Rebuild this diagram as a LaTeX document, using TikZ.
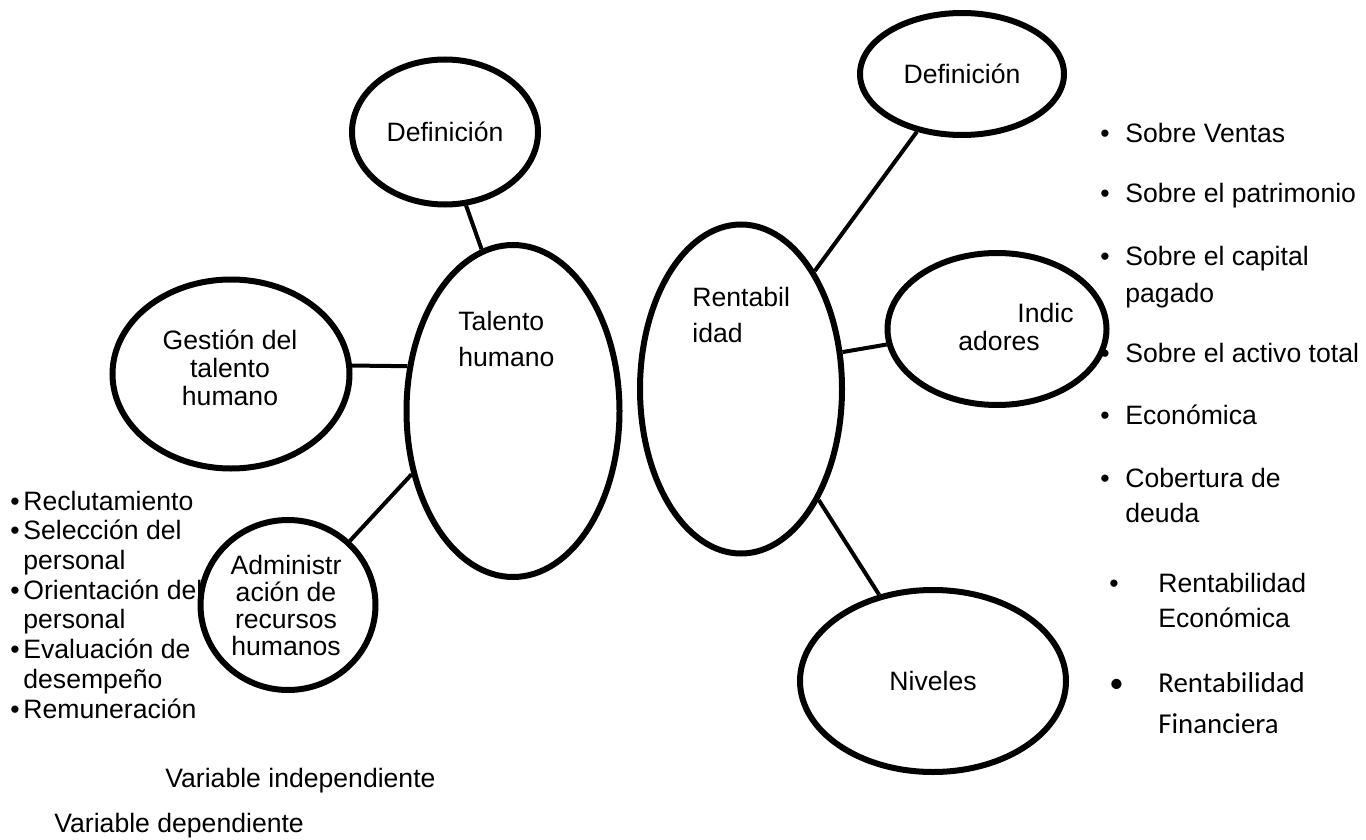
\documentclass[tikz,border=0pt]{standalone}
\usepackage{fontspec}
\setmainfont{Liberation Sans}
\newfontfamily\calibri{Carlito}
\usetikzlibrary{shapes.geometric}

\begin{document}
\begin{tikzpicture}[x=0.5pt,y=-0.5pt,
    burbuja/.style={draw, ellipse, line width=3pt, inner sep=0pt, font=\fontsize{13.3}{16}\selectfont},
    enlace/.style={line width=2pt},
    texto/.style={font=\fontsize{13.3}{#1}\selectfont, inner sep=0pt, align=left},
    texto/.default=16]
  \useasboundingbox (0,0) rectangle (1366,840);

  % Variable independiente
  \node[burbuja, minimum width=106.5pt, minimum height=166pt] (tal) at (513,411) {};
  \node[burbuja, minimum width=93pt, minimum height=72.5pt] (defa) at (445,132) {Definición};
  \node[burbuja, minimum width=118.5pt, minimum height=94.5pt] (ges) at (231,374) {};
  \node[burbuja, minimum width=87.5pt, minimum height=85pt] (adm) at (288,605) {};
  % (base = ultima linea)
  \node[texto=18, anchor=base west] (talt) at (458,366) {Talento\\humano};
  \node[texto=14, align=center, anchor=base] (gest) at (230,405) {Gestión del\\talento\\humano};
  \node[texto=13.35, align=center, anchor=base] (admt) at (286,655) {Administr\\ación de\\recursos\\humanos};
  \draw[enlace] (defa.286) -- (tal.101);
  \draw[enlace] (ges.4) -- (tal.157);
  \draw[enlace] (adm.46) -- (tal.212);

  % Variable dependiente
  \node[burbuja, minimum width=101pt, minimum height=164.5pt] (ren) at (741,389) {};
  \node[burbuja, minimum width=102pt, minimum height=61pt] (defb) at (962,74) {Definición};
  \node[burbuja, minimum width=109.5pt, minimum height=76pt] (ind) at (997,329) {};
  \node[burbuja, minimum width=133pt, minimum height=91pt] (niv) at (933,681) {Niveles};
  \node[texto=18, anchor=base west] (rent) at (692,342) {Rentabil\\idad};
  \node[texto=13.5, anchor=base west] (indt) at (958,350) {\hspace*{29.5pt}Indic\\adores};
  \draw[enlace] (defb.232) -- (ren.58);
  \draw[enlace] (ren.20) -- (ind.188);
  \draw[enlace] (ren.305) -- (niv.122);

  % Listas
  \node[texto=14.85, anchor=base west] (lista) at (10,718) {\makebox[6.5pt][l]{•}Reclutamiento\\
    \makebox[6.5pt][l]{•}Selección del\\\hspace*{6.5pt}personal\\
    \makebox[6.5pt][l]{•}Orientación del\\\hspace*{6.5pt}personal\\
    \makebox[6.5pt][l]{•}Evaluación de\\\hspace*{6.5pt}desempeño\\
    \makebox[6.5pt][l]{•}Remuneración};
  \node[texto, anchor=base west] (sv) at (1100,142) {\makebox[12.5pt][l]{•}Sobre Ventas};
  \node[texto, anchor=base west] (sp) at (1100,203) {\makebox[12.5pt][l]{•}Sobre el patrimonio};
  \node[texto=18.25, anchor=base west] (sc) at (1100,302) {\makebox[12.5pt][l]{•}Sobre el capital\\\hspace*{12.5pt}pagado};
  \node[texto, anchor=base west] (sa) at (1100,362) {\makebox[12.5pt][l]{•}Sobre el activo total};
  \node[texto, anchor=base west] (ec) at (1100,424) {\makebox[12.5pt][l]{•}Económica};
  \node[texto=17.5, anchor=base west] (cd) at (1100,522) {\makebox[12.5pt][l]{•}Cobertura de\\\hspace*{12.5pt}deuda};
  \node[texto=17.5, anchor=base west] (re) at (1109,627) {\makebox[24.5pt][l]{•}Rentabilidad\\\hspace*{24.5pt}Económica};
  \node[texto=20.5, anchor=base west, font=\calibri\fontsize{14.4}{20.5}\selectfont] (rf) at (1109,733) {\makebox[24.5pt][l]{•}Rentabilidad\\\hspace*{24.5pt}Financiera};

  % Leyenda
  \node[texto, anchor=base west] (vi) at (165,787.5) {Variable independiente};
  \node[texto, anchor=base west] (vd) at (54,832) {Variable dependiente};
\end{tikzpicture}
\end{document}
